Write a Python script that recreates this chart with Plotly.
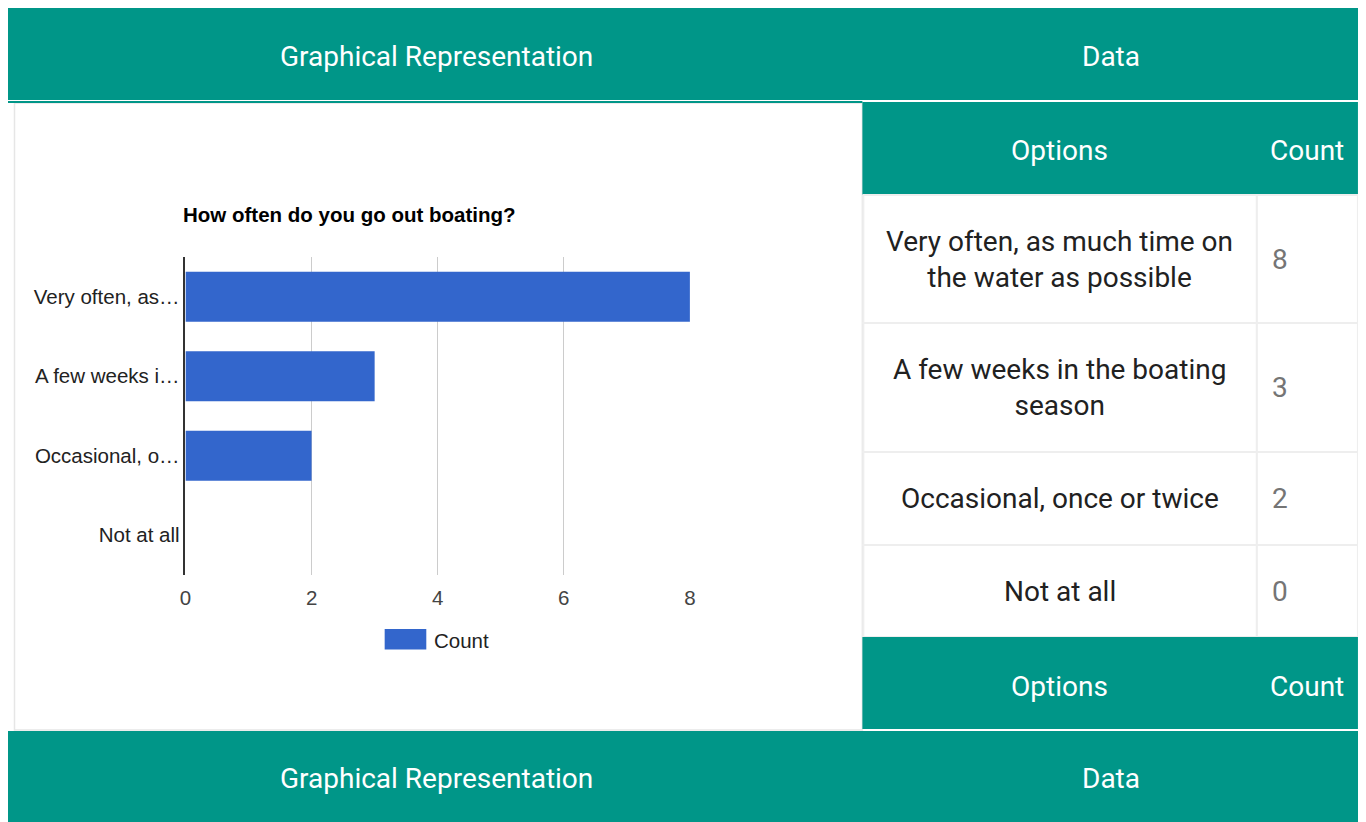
import textwrap
import plotly.graph_objects as go

# ---------------- data ----------------
options = [
    "Very often, as much time on the water as possible",
    "A few weeks in the boating season",
    "Occasional, once or twice",
    "Not at all",
]
counts = [8, 3, 2, 0]
axis_labels = ["Very often, as\u2026", "A few weeks i\u2026", "Occasional, o\u2026", "Not at all"]
x_ticks = [0, 2, 4, 6, 8]
series_name = "Count"
chart_title = "How often do you go out boating?"
panel_titles = ["Graphical Representation", "Data"]
table_headers = ["Options", "Count"]

# ---------------- styles ----------------
# The page body has an 8px margin; the figure starts at page (8, 8).
OX, OY = 8, 8
W, H = 1350, 814
TEAL = "#009688"
BLUE = "#3366cc"
ROBOTO = "Roboto, Arial, sans-serif"
ARIAL = "Arial, 'Liberation Sans', sans-serif"
BIG = 28
SMALL = 20.5


def px(x):
    return (x - OX) / W


def py(y):
    return 1 - (y - OY) / H


fig = go.Figure()
fig.add_trace(go.Bar(
    x=counts, y=options, orientation="h", name=series_name,
    marker=dict(color=BLUE, line=dict(width=0)), showlegend=False,
    hoverinfo="x+y",
))

shapes = []


def rect(x0, y0, x1, y1, fill, line=None, lw=0, layer="below"):
    shapes.append(dict(type="rect", xref="paper", yref="paper",
                       x0=px(x0), x1=px(x1), y0=py(y1), y1=py(y0),
                       fillcolor=fill, line=dict(color=line or fill, width=lw),
                       layer=layer))


# top header band
rect(0, 8, 1370, 100, TEAL)
# left panel
rect(8.5, 103, 864, 730, "white", "#e6e6e6", 1.5)
rect(0, 101, 864, 103, TEAL)
# options header
rect(864, 102, 1364, 195, TEAL)
# table rows
row_bounds = [195, 323, 452, 545, 637]
for i in range(len(options)):
    rect(865, row_bounds[i], 1262, row_bounds[i + 1], "white", "#eeeeee", 2)
    rect(1262, row_bounds[i], 1364, row_bounds[i + 1], "white", "#eeeeee", 2)
# options footer
rect(864, 637, 1364, 729, TEAL)
# bottom header band
rect(0, 731, 1370, 830, TEAL)
# legend swatch
rect(382, 629, 424, 649.5, BLUE, layer="above")

ann = []


def text(x, y, s, size, color, font=ROBOTO, xanchor="center", bold=False):
    ann.append(dict(xref="paper", yref="paper", x=px(x), y=py(y), text=(f"<b>{s}</b>" if bold else s),
                    showarrow=False, xanchor=xanchor, yanchor="middle",
                    font=dict(family=font, size=size, color=color), align="center"))


text(434.5, 56, panel_titles[0], BIG, "white")
text(1114.5, 56, panel_titles[1], BIG, "white")
text(434.5, 778, panel_titles[0], BIG, "white")
text(1114.5, 778, panel_titles[1], BIG, "white")
text(1063, 150, table_headers[0], BIG, "white")
text(1313, 150, table_headers[1], BIG, "white")
text(1063, 686, table_headers[0], BIG, "white")
text(1313, 686, table_headers[1], BIG, "white")

for i, (opt, c) in enumerate(zip(options, counts)):
    yc = (row_bounds[i] + row_bounds[i + 1]) / 2
    text(1063, yc, "<br>".join(textwrap.wrap(opt, 27)), BIG, "#212121")
    text(1275, yc, str(c), BIG, "#757575", xanchor="left")

# chart title and legend label
text(177, 214, chart_title, SMALL, "#000000", font=ARIAL, xanchor="left", bold=True)
text(430, 640, series_name, SMALL, "#222222", font=ARIAL, xanchor="left")

fig.update_layout(
    width=W, height=H, autosize=False,
    margin=dict(l=0, r=0, t=0, b=0),
    paper_bgcolor="white", plot_bgcolor="white",
    shapes=shapes, annotations=ann,
    bargap=0.37,
    xaxis=dict(domain=[px(181), px(690)], range=[0, 8], tickvals=x_ticks,
               showgrid=True, gridcolor="#cccccc", gridwidth=1, zeroline=False,
               showline=False, ticks="", ticklabelstandoff=8,
               tickfont=dict(family=ARIAL, size=SMALL, color="#444444"), fixedrange=True),
    yaxis=dict(domain=[py(575), py(257)], autorange="reversed",
               categoryorder="array", categoryarray=options,
               tickvals=options, ticktext=axis_labels,
               showgrid=False, zeroline=False, showline=True,
               linecolor="#333333", linewidth=1.5, ticks="", ticklabelstandoff=0,
               tickfont=dict(family=ARIAL, size=SMALL, color="#222222"), fixedrange=True),
)

fig.write_html("out.html")
